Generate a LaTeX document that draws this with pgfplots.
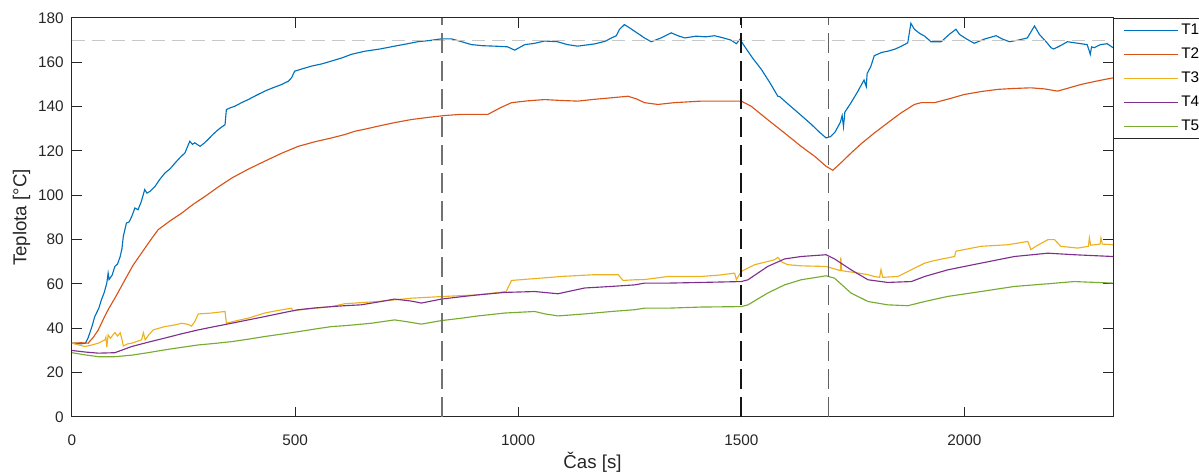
\documentclass[border=0pt]{standalone}
\usepackage{pgfplots}
\pgfplotsset{compat=1.18}
\usepackage{fontspec}
\setmainfont{Liberation Sans}
\definecolor{mtxt}{RGB}{38,38,38}
\definecolor{c1}{rgb}{0,0.447,0.741}
\definecolor{c2}{rgb}{0.850,0.325,0.098}
\definecolor{c3}{rgb}{0.929,0.694,0.125}
\definecolor{c4}{rgb}{0.494,0.184,0.556}
\definecolor{c5}{rgb}{0.466,0.674,0.188}
\begin{document}
\begin{tikzpicture}
\begin{axis}[
  scale only axis, width=780.75pt, height=299.25pt,
  xmin=0, xmax=2333, ymin=0, ymax=180,
  xtick={0,500,1000,1500,2000}, ytick={0,20,...,180},
  tick align=inside, tick pos=both, major tick length=7.5pt,
  axis line style={draw=mtxt, line width=0.75pt},
  every tick/.style={draw=mtxt, line width=0.75pt},
  /pgf/number format/assume math mode=true,
  /pgf/number format/1000 sep={},
  tick label style={font=\fontsize{11.5}{13}\selectfont, text=mtxt},
  xticklabel style={yshift=-9.5pt},
  yticklabel style={xshift=-2.75pt},
  xlabel={Čas [s]}, ylabel={Teplota [°C]},
  label style={font=\fontsize{14}{16}\selectfont, text=mtxt},
  x label style={at={(axis description cs:0.5,-0.1128)}, anchor=center},
  y label style={at={(axis description cs:-0.0485,0.5)}, anchor=center, rotate=0},
  legend style={at={(1,1)}, anchor=north west, draw=mtxt, line width=0.75pt, fill=white,
    font=\fontsize{11.5}{13}\selectfont, text=black, inner xsep=7.5pt, inner ysep=2pt,
    row sep=4.6pt, legend cell align=left},
  legend image code/.code={\draw[#1, line width=0.9pt] (0pt,0pt) -- (40.5pt,0pt);},
  every axis plot/.append style={line width=0.85pt},
]
\addplot[c1] coordinates {(0,33.3) (20,33) (30,33.3) (36,35.6) (45,41) (51,45.3) (60,49) (66,52.9) (72,56) (78,60.4) (81,64.9) (83,62) (90,64) (96,67.9) (102,69) (108,72.4) (112,76) (115,81.5) (122,87.5) (128,88) (134,90.5) (141,94.3) (148,93.5) (155,97) (163,102.6) (168,101) (175,101.8) (186,104) (196,107) (208,110) (220,112) (231,114.6) (242,117) (253,119.1) (264,124.4) (270,123) (275,123.7) (287,122.1) (296,123.5) (305,125.2) (316,127.5) (328,129.7) (343,131.9) (346,138.7) (355,139.5) (365,140.2) (380,141.8) (395,143.2) (412,145) (432,147) (450,148.5) (470,150) (485,151.5) (492,153) (499,156) (515,157) (537,158.3) (560,159.3) (582,160.6) (605,162) (626,163.6) (656,165) (690,166) (723,167.3) (750,168.3) (775,169.3) (800,169.8) (828,170.6) (850,170.6) (870,169.5) (895,168) (920,167.5) (947,167.3) (976,167) (992,165.5) (1015,168) (1035,168.5) (1059,169.6) (1088,169.3) (1110,168) (1133,167.3) (1171,168.3) (1195,169.5) (1209,171) (1220,172) (1227,174.9) (1238,177) (1250,175.5) (1261,174) (1283,171) (1298,169.3) (1320,171) (1343,173.3) (1358,172) (1373,171) (1399,171.8) (1420,171.5) (1440,172) (1460,171) (1477,170) (1489,168.4) (1497,170.4) (1507,167.3) (1525,162) (1545,156.8) (1565,150.5) (1578,146) (1582,144.7) (1586,144.5) (1600,142) (1619,138.7) (1640,135) (1657,132) (1675,128.5) (1690,125.9) (1700,126.5) (1710,128.5) (1722,133) (1726,136) (1729,131) (1732,137.5) (1745,141.5) (1760,146.5) (1775,152) (1780,149) (1782,155) (1790,158) (1798,163) (1815,164.5) (1828,165) (1845,166) (1859,167.3) (1873,168.8) (1880,177.6) (1888,174.9) (1900,173) (1911,171.8) (1925,169.3) (1948,169.3) (1966,172.6) (1981,174.9) (1989,172.6) (2005,170.5) (2022,168.6) (2045,170.5) (2071,172) (2085,170.5) (2101,169.3) (2120,170) (2141,171) (2157,176.4) (2168,172.6) (2186,168.6) (2194,166.6) (2200,166) (2215,167.5) (2231,169.3) (2261,168.4) (2275,168) (2280,165) (2282,163.6) (2285,167) (2291,166.6) (2305,168) (2320,168.4) (2333,166.6)};
\addlegendentry{T1}
\addplot[c2] coordinates {(0,33.3) (20,33.5) (36,33.3) (48,36) (59,39.3) (70,44) (81,48.4) (100,55) (119,62) (137,68.5) (156,74) (175,79.5) (193,84.5) (220,88.5) (246,92) (272,96) (298,99.5) (328,103.8) (358,107.8) (395,111.8) (432,115.4) (470,119) (507,122.1) (545,124.2) (582,125.9) (611,127.4) (634,128.9) (660,130) (686,131.2) (723,132.8) (761,134.2) (800,135.2) (835,136) (870,136.5) (910,136.5) (932,136.5) (960,139.5) (985,141.8) (1020,142.6) (1059,143.2) (1095,142.8) (1134,142.5) (1170,143.3) (1209,144) (1246,144.7) (1265,143.5) (1283,141.8) (1313,141) (1350,141.8) (1410,142.5) (1460,142.5) (1500,142.5) (1522,140.2) (1560,134) (1597,128.1) (1634,122.1) (1665,117.5) (1690,113.1) (1705,111.3) (1725,115) (1746,119.1) (1770,123.5) (1798,128.1) (1830,133) (1858,137.2) (1888,141) (1903,141.8) (1933,141.8) (1965,143.5) (2000,145.5) (2037,146.8) (2075,147.8) (2110,148.2) (2149,148.5) (2180,148) (2209,147) (2235,148.5) (2261,150) (2295,151.5) (2333,153)};
\addlegendentry{T2}
\addplot[c3] coordinates {(0,33.3) (15,32.5) (29,31.8) (45,32.5) (59,33.3) (74,34.8) (76,36) (78,31.5) (81,37) (86,35.5) (96,38.1) (102,36.5) (108,38) (112,35) (115,32) (125,33) (134,33.3) (156,34.8) (160,38) (164,34.8) (172,37) (182,39.3) (208,40.8) (230,41.5) (246,42.3) (260,41.8) (268,41) (275,43) (283,46.5) (313,46.9) (343,47.6) (346,42.3) (370,43.5) (395,44.6) (432,46.9) (460,48) (492,49.1) (495,47.9) (540,49) (582,49.8) (611,51.1) (634,51.4) (686,52.1) (761,53.6) (835,54.4) (910,55.1) (973,56.6) (985,61.6) (1022,62.2) (1060,62.8) (1097,63.4) (1171,64.2) (1224,64.2) (1235,61.6) (1261,61.9) (1283,62) (1336,63.4) (1410,63.4) (1450,64) (1485,64.9) (1489,62) (1500,65.7) (1530,68.7) (1574,70.9) (1582,72) (1590,70) (1604,68.7) (1634,68.2) (1690,67.9) (1716,66.4) (1722,66) (1723,72) (1725,66) (1735,65.7) (1760,65) (1784,64.2) (1798,63.4) (1810,63) (1813,66.5) (1817,63) (1851,63.4) (1881,66.4) (1911,69.4) (1925,70.2) (1950,71.3) (1978,72.4) (1981,74.8) (2037,77) (2097,77.7) (2142,79.2) (2149,75.5) (2160,77) (2187,80) (2202,80) (2216,77) (2254,76.2) (2278,77) (2280,80.8) (2283,77.5) (2291,77.7) (2304,78) (2306,80.8) (2309,78) (2333,77.7)};
\addlegendentry{T3}
\addplot[c4] coordinates {(0,30) (30,29.3) (59,28.8) (96,29) (134,31.8) (170,33.7) (208,35.6) (245,37.5) (283,39.3) (320,40.8) (358,42.3) (395,43.8) (432,45.3) (470,46.9) (507,48.4) (545,49.2) (582,49.8) (611,50.2) (648,50.6) (690,52) (723,53.2) (760,52.3) (783,51.4) (828,53.2) (870,54.2) (910,55.1) (970,56.2) (1037,56.6) (1089,55.6) (1149,58.2) (1209,58.9) (1261,59.6) (1283,60.4) (1336,60.4) (1410,60.7) (1500,61.1) (1515,61.9) (1559,67.9) (1597,71.3) (1634,72.4) (1690,73.2) (1709,71.3) (1746,66.4) (1784,61.9) (1828,60.7) (1881,61.1) (1911,63.4) (1963,66.4) (2037,69.4) (2112,72.4) (2187,73.9) (2246,73.2) (2333,72.4)};
\addlegendentry{T4}
\addplot[c5] coordinates {(0,29) (30,28) (59,27.2) (96,27.2) (134,27.9) (170,29) (208,30.3) (245,31.4) (283,32.5) (320,33.2) (358,34) (395,35.1) (432,36.3) (470,37.4) (507,38.5) (545,39.7) (582,40.8) (611,41.2) (634,41.6) (671,42.3) (723,43.8) (750,43) (783,41.9) (828,43.5) (870,44.5) (910,45.6) (970,46.9) (1037,47.6) (1060,46.5) (1089,45.6) (1149,46.5) (1209,47.6) (1261,48.4) (1283,49.1) (1336,49.1) (1410,49.6) (1500,49.8) (1515,50.6) (1559,55.9) (1597,59.6) (1634,61.9) (1690,63.7) (1709,62.6) (1746,55.9) (1784,52.1) (1828,50.6) (1873,50.2) (1911,52.1) (1963,54.4) (2037,56.6) (2112,58.9) (2187,60.1) (2246,61.1) (2333,60.4)};
\addlegendentry{T5}
\addplot[forget plot, color=black!22, line width=0.75pt, dash pattern=on 9.75pt off 5.25pt] coordinates {(0,170) (2333,170)};
\addplot[forget plot, color=black!55, line width=1.5pt, dash pattern=on 15pt off 6pt] coordinates {(830,0) (830,180)};
\addplot[forget plot, color=black!92, line width=1.5pt, dash pattern=on 15pt off 6pt] coordinates {(1500,0) (1500,180)};
\addplot[forget plot, color=black!62, line width=1.2pt, dash pattern=on 15pt off 6pt] coordinates {(1695,0) (1695,180)};
\coordinate (bl) at (rel axis cs:0,0);
\coordinate (tr) at (rel axis cs:1,1);
\end{axis}
\pgfresetboundingbox
\path[use as bounding box] ([shift={(-54pt,-42pt)}]bl) rectangle ([shift={(64.5pt,13.5pt)}]tr);
\end{tikzpicture}
\end{document}
